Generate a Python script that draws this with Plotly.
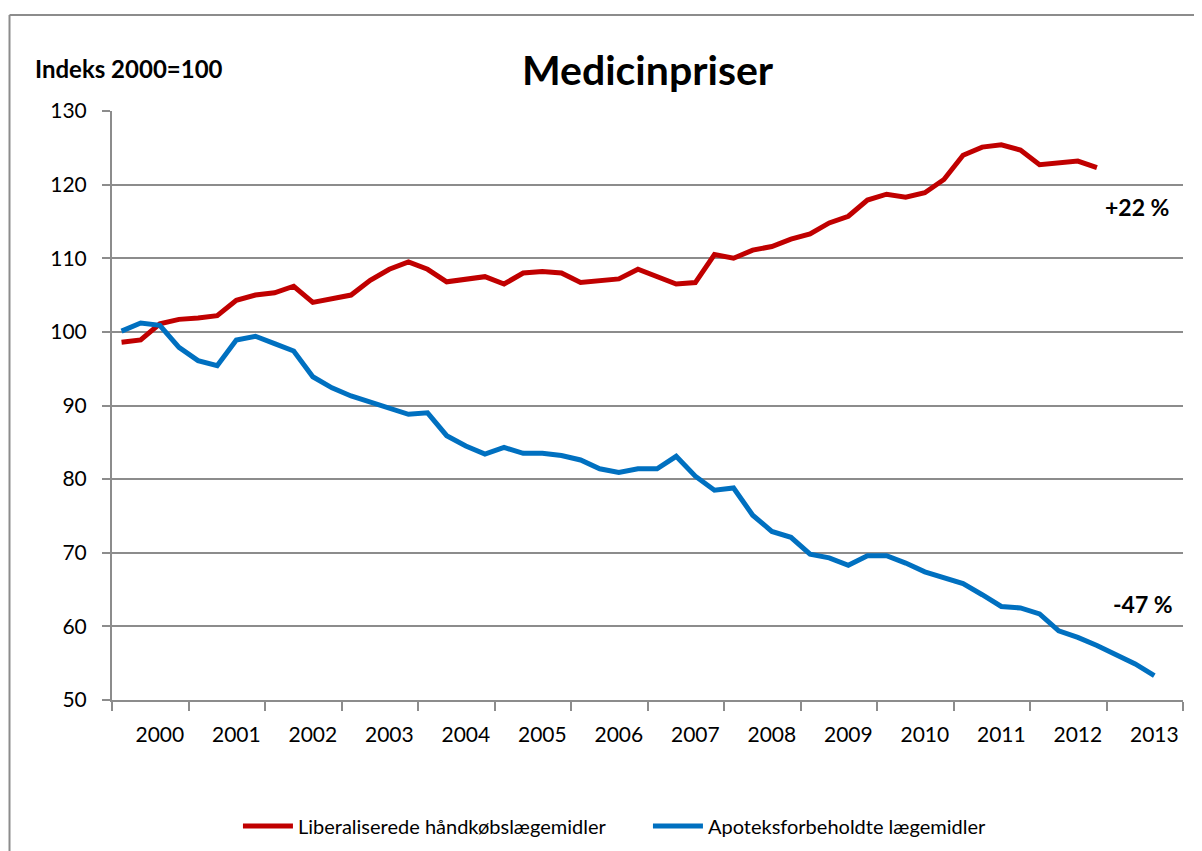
import plotly.graph_objects as go

years = [str(y) for y in range(2000, 2014)]

# Quarterly index values (index 0 = first quarter shown)
liberaliserede = [
    98.6, 98.9, 101.1, 101.7, 101.9, 102.2, 104.3, 105.0, 105.3, 106.2,
    104.0, 104.5, 105.0, 107.0, 108.5, 109.5, 108.5, 106.8, 107.1, 107.5,
    106.5, 108.0, 108.2, 108.0, 106.7, 106.9, 107.2, 108.5, 107.5, 106.5,
    106.7, 110.5, 110.0, 111.1, 111.6, 112.6, 113.3, 114.8, 115.7, 117.9,
    118.7, 118.3, 118.9, 120.7, 124.0, 125.1, 125.4, 124.7, 122.7, 122.9,
    123.2, 122.3,
]
apoteks = [
    100.1, 101.2, 100.9, 97.9, 96.1, 95.4, 98.9, 99.4, 98.4, 97.4,
    93.9, 92.4, 91.3, 90.5, 89.7, 88.8, 89.0, 85.9, 84.5, 83.4,
    84.3, 83.5, 83.5, 83.2, 82.6, 81.4, 80.9, 81.4, 81.4, 83.1,
    80.4, 78.5, 78.8, 75.1, 72.9, 72.1, 69.8, 69.3, 68.3, 69.6,
    69.6, 68.6, 67.4, 66.6, 65.8, 64.3, 62.7, 62.5, 61.7, 59.4,
    58.5, 57.4, 56.2, 54.9, 53.3,
]
series_names = ["Liberaliserede håndkøbslægemidler", "Apoteksforbeholdte lægemidler"]
series_colors = ["#C00000", "#0070C0"]

n_cat = 56
label_pos = [2 + 4 * k for k in range(len(years))]
tick_marks = [-0.5 + 4 * k for k in range(15)]

FONT = "Lato"
GRID = "#8c8c8c"

fig = go.Figure()
for name, vals, col in zip(series_names, [liberaliserede, apoteks], series_colors):
    fig.add_trace(go.Scatter(
        x=list(range(len(vals))), y=vals, mode="lines", name=name,
        line=dict(color=col, width=5, shape="linear"),
    ))

# page body has an 8px default margin, so the figure is 16px smaller
fig.update_layout(
    width=1194, height=843,
    margin=dict(l=104, r=19, t=103, b=151, autoexpand=False),
    paper_bgcolor="white", plot_bgcolor="white",
    font=dict(family=FONT, color="black", size=18),
    title=dict(text="<b>Medicinpriser</b>", x=0.5, xref="paper", xanchor="center",
               y=0.926, yref="container", yanchor="middle",
               font=dict(family=FONT, size=41, color="black")),
    showlegend=True,
    legend=dict(orientation="h", x=0.1176, xanchor="left", xref="paper",
                y=0.0297, yref="container", yanchor="middle",
                font=dict(family=FONT, size=20), itemwidth=50, entrywidth=345,
                traceorder="normal"),
    xaxis=dict(
        range=[-0.5, n_cat - 0.5], tickmode="array", tickvals=label_pos, ticktext=years,
        ticks="", showgrid=False, zeroline=False, showline=True, linecolor=GRID, linewidth=2,
        tickfont=dict(family=FONT, size=21), ticklabelstandoff=15, automargin=False,
        minor=dict(tickmode="array", tickvals=tick_marks, ticks="outside", ticklen=9,
                   tickcolor=GRID, tickwidth=2, showgrid=False),
    ),
    yaxis=dict(
        range=[50, 130], dtick=10, tick0=50, showgrid=True, gridcolor=GRID, gridwidth=2,
        zeroline=False, showline=True, linecolor=GRID, linewidth=2, automargin=False,
        ticks="outside", ticklen=8, tickcolor=GRID, tickwidth=2,
        tickfont=dict(family=FONT, size=21), ticklabelstandoff=11,
    ),
)

fig.add_annotation(text="<b>Indeks 2000=100</b>", xref="paper", yref="paper",
                   x=-0.074, y=1.072, xanchor="left", yanchor="middle", showarrow=False,
                   font=dict(family=FONT, size=24, color="black"))
fig.add_annotation(text="<b>+22 %</b>", xref="x", yref="y", x=53.1, y=116.9,
                   showarrow=False, font=dict(family=FONT, size=23, color="black"))
fig.add_annotation(text="<b>-47 %</b>", xref="x", yref="y", x=53.4, y=63.1,
                   showarrow=False, font=dict(family=FONT, size=23, color="black"))

# outer chart frame (top and left edges visible)
fig.add_shape(type="line", xref="paper", yref="paper", x0=-0.0957, x1=1.03, y0=1.1632, y1=1.1632,
              line=dict(color=GRID, width=2))
fig.add_shape(type="line", xref="paper", yref="paper", x0=-0.0957, x1=-0.0957, y0=-0.3, y1=1.1632,
              line=dict(color=GRID, width=2))

fig.write_html("out.html")
